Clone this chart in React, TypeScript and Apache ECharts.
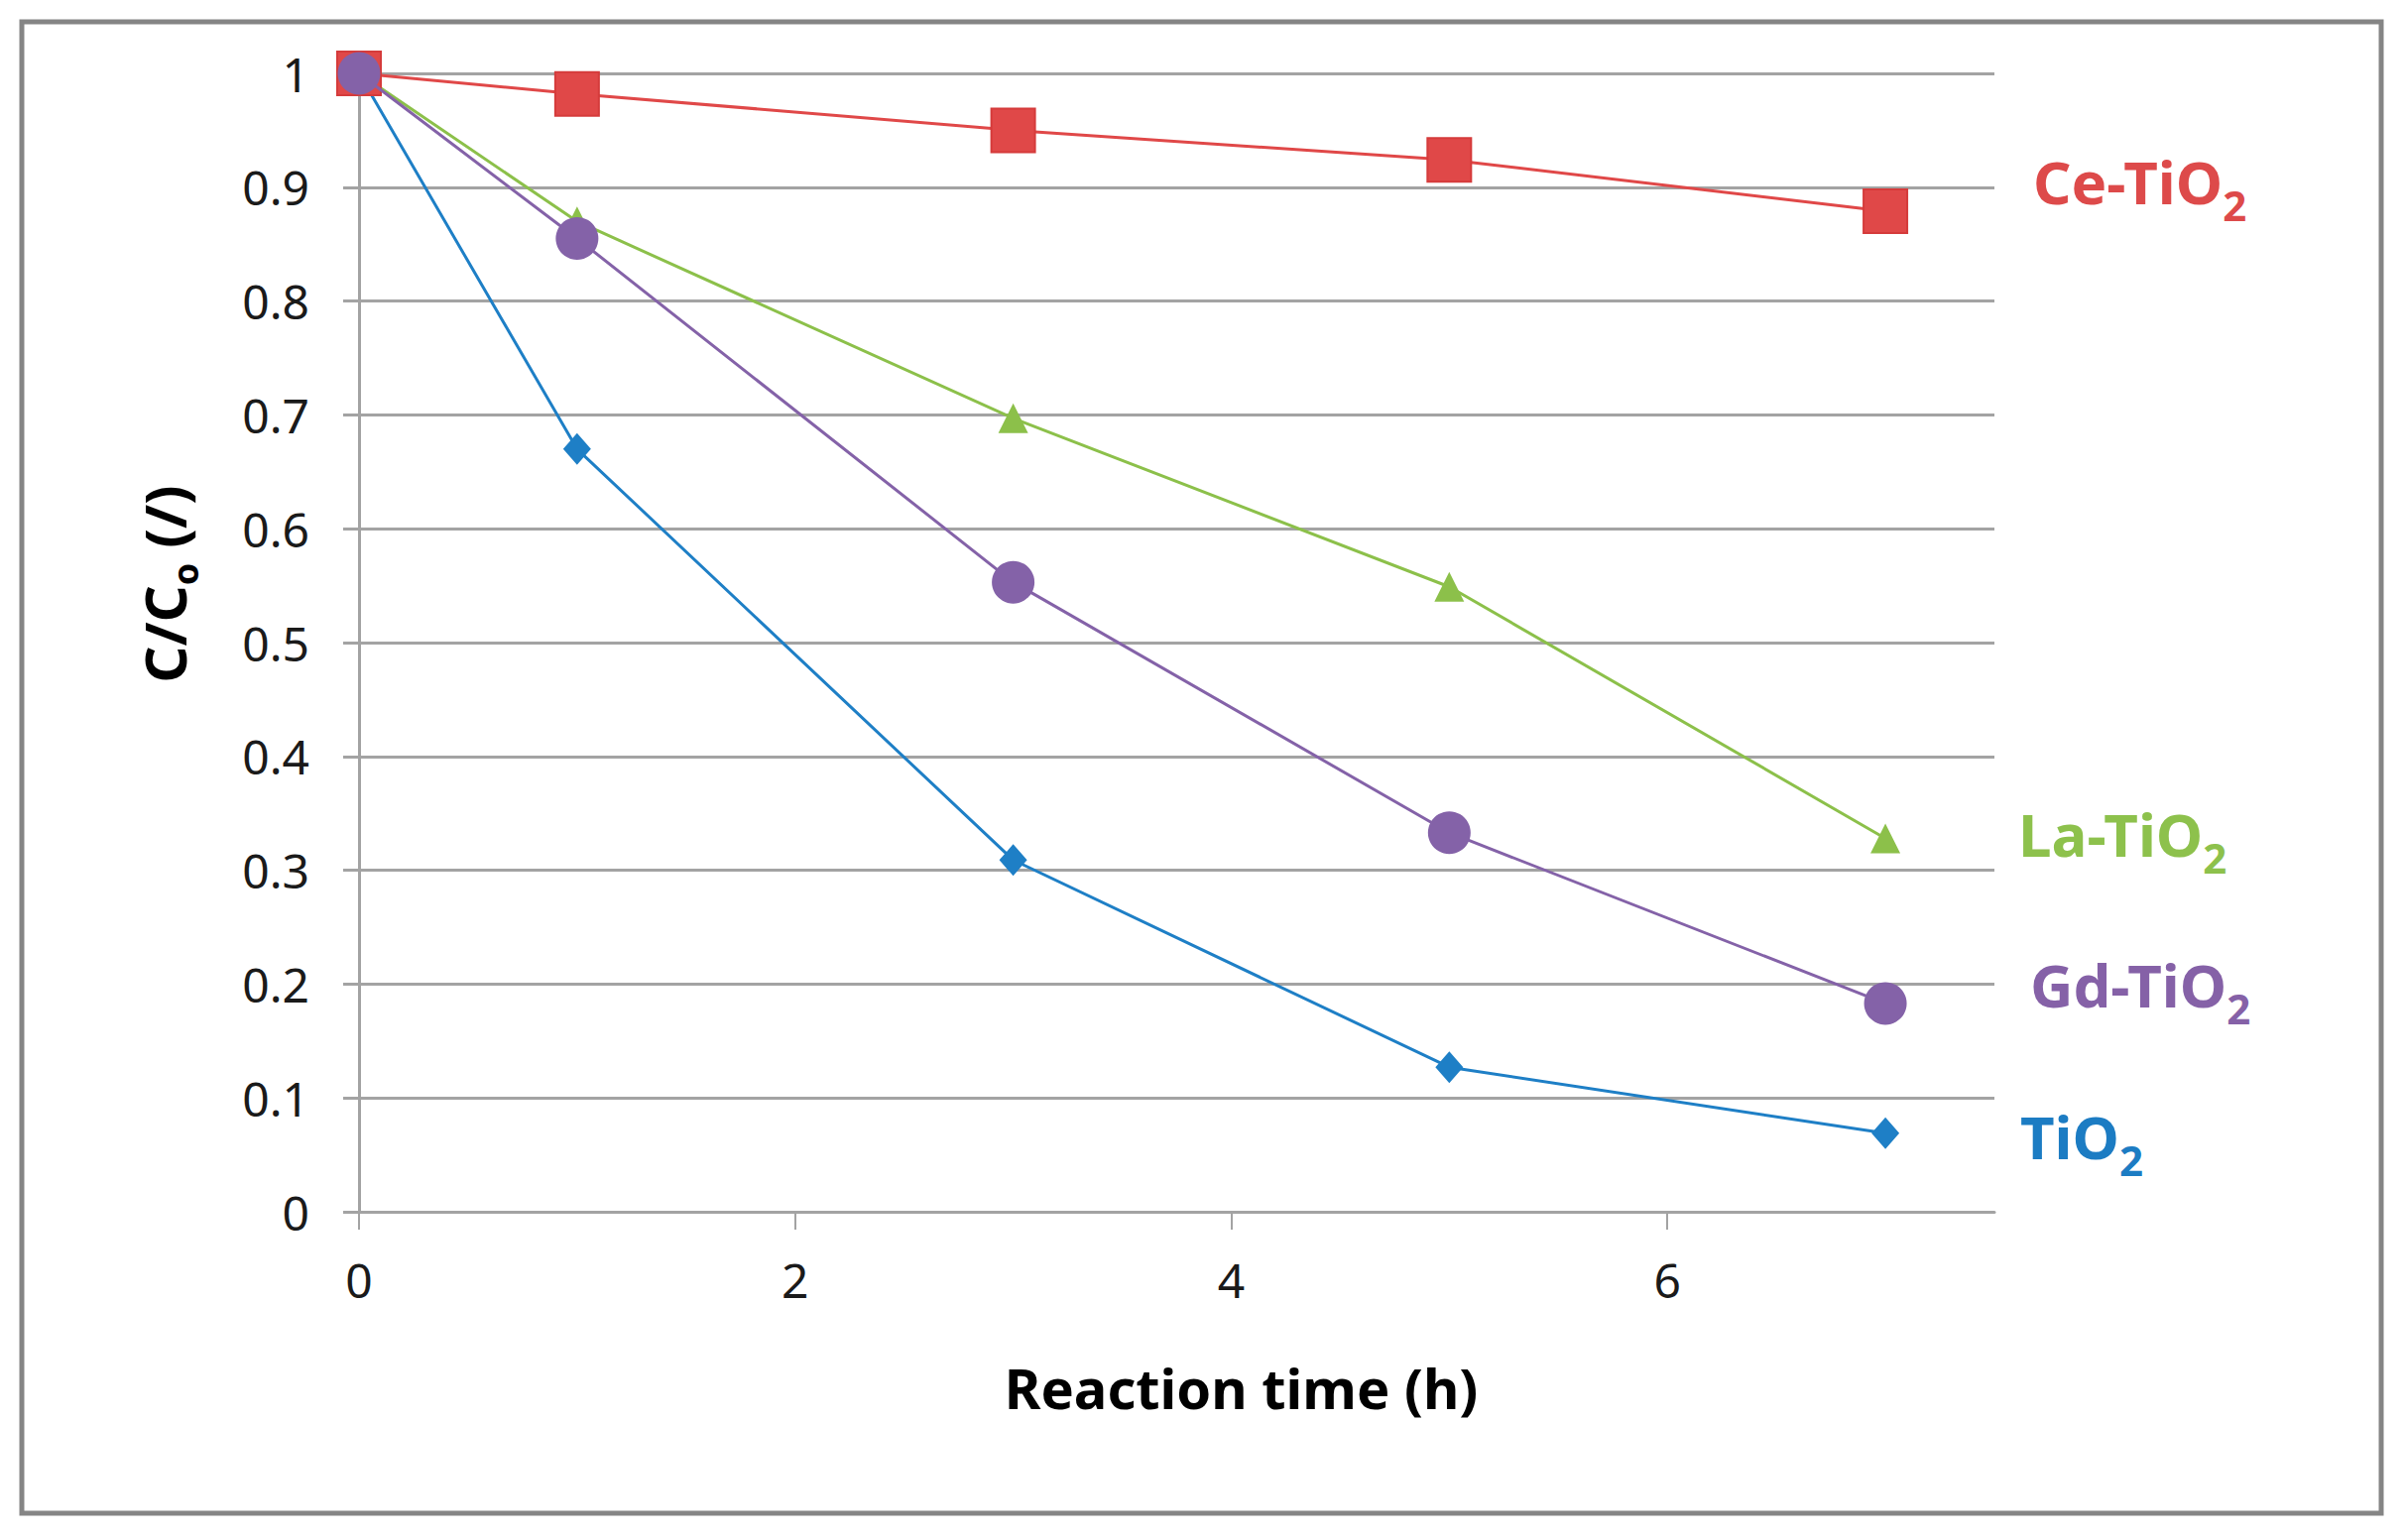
import React, { useEffect, useRef } from "react";
import * as echarts from "echarts";

// ---- data ----
const times = [0, 1, 3, 5, 7];
const tiO2 = [1.0, 0.67, 0.309, 0.127, 0.069];
const laTiO2 = [1.0, 0.87, 0.697, 0.549, 0.328];
const ceTiO2 = [1.0, 0.982, 0.95, 0.924, 0.879];
const gdTiO2 = [1.0, 0.855, 0.553, 0.333, 0.183];
const xTickValues = [0, 2, 4, 6];
const seriesNames = ["TiO2", "La-TiO2", "Ce-TiO2", "Gd-TiO2"];
const labelMain = ["TiO", "La-TiO", "Ce-TiO", "Gd-TiO"];
const labelSub = ["2", "2", "2", "2"];

const COLORS = {
  blue: "#1E7FC6",
  green: "#8CC04A",
  red: "#E04848",
  purple: "#8462A8",
};

const FONT = "'Noto Sans', 'Open Sans', sans-serif";

function pairs(ys: number[]) {
  return times.map((t, i) => [t, ys[i]]);
}

function seriesLabel(main: string, sub: string, color: string, x: number, y: number) {
  return {
    type: "text",
    x,
    y,
    silent: true,
    style: {
      text: `{m|${main}}{s|${sub}}`,
      align: "left",
      verticalAlign: "top",
      rich: {
        m: {
          fontSize: 60,
          fontWeight: "bold",
          fontFamily: FONT,
          lineHeight: 74,
          verticalAlign: "top",
          fill: color,
        },
        s: {
          fontSize: 42,
          fontWeight: "bold",
          fontFamily: FONT,
          lineHeight: 74,
          verticalAlign: "bottom",
          fill: color,
        },
      },
    },
  };
}

export default function App() {
  const ref = useRef<HTMLDivElement>(null);

  useEffect(() => {
    if (!ref.current) return;
    const chart = echarts.init(ref.current, undefined, { renderer: "svg" });

    const gridColor = "#A3A3A3";

    const option: any = {
      animation: false,
      backgroundColor: "#ffffff",
      grid: { left: 362, right: 414, top: 74, bottom: 331, containLabel: false },
      xAxis: {
        type: "value",
        min: 0,
        max: 7.5,
        interval: 2,
        name: "Reaction time (h)",
        nameLocation: "middle",
        nameGap: 149,
        nameTextStyle: {
          fontSize: 56,
          fontWeight: "bold",
          fontFamily: FONT,
          color: "#000",
          padding: [0, 0, 0, 130],
        },
        axisLine: { show: true, lineStyle: { color: gridColor, width: 3 } },
        axisTick: {
          show: true,
          length: 18,
          customValues: xTickValues,
          lineStyle: { color: gridColor, width: 2 },
        },
        axisLabel: {
          customValues: xTickValues,
          fontSize: 48,
          margin: 44,
          fontFamily: FONT,
          color: "#1a1a1a",
        },
        splitLine: { show: false },
      },
      yAxis: {
        type: "value",
        min: 0,
        max: 1,
        interval: 0.1,
        name: "{m|C/C}{s|o}{m| (/)}",
        nameLocation: "middle",
        nameRotate: 90,
        nameGap: 158,
        nameTextStyle: {
          padding: [0, 0, 0, 118],
          rich: {
            m: {
              fontSize: 58,
              fontWeight: "bold",
              fontFamily: FONT,
              color: "#000",
              lineHeight: 68,
              verticalAlign: "top",
            },
            s: {
              fontSize: 36,
              fontWeight: "bold",
              fontFamily: FONT,
              color: "#000",
              lineHeight: 68,
              verticalAlign: "bottom",
            },
          },
        },
        axisLine: { show: true, lineStyle: { color: gridColor, width: 3 } },
        axisTick: { show: true, length: 16, lineStyle: { color: gridColor, width: 3 } },
        axisLabel: { fontSize: 48, margin: 50, fontFamily: FONT, color: "#1a1a1a" },
        splitLine: { show: true, lineStyle: { color: gridColor, width: 3 } },
      },
      series: [
        {
          name: seriesNames[0],
          type: "line",
          data: pairs(tiO2),
          symbol: "diamond",
          symbolSize: [28, 32],
          lineStyle: { color: COLORS.blue, width: 3 },
          itemStyle: { color: COLORS.blue },
          z: 2,
        },
        {
          name: seriesNames[1],
          type: "line",
          data: pairs(laTiO2),
          symbol: "triangle",
          symbolSize: [30, 30],
          lineStyle: { color: COLORS.green, width: 3 },
          itemStyle: { color: COLORS.green },
          z: 3,
        },
        {
          name: seriesNames[2],
          type: "line",
          data: pairs(ceTiO2),
          symbol: "rect",
          symbolSize: 44,
          lineStyle: { color: COLORS.red, width: 3 },
          itemStyle: { color: COLORS.red, borderColor: "#D53B3B", borderWidth: 2 },
          z: 4,
        },
        {
          name: seriesNames[3],
          type: "line",
          data: pairs(gdTiO2),
          symbol: "circle",
          symbolSize: 43,
          lineStyle: { color: COLORS.purple, width: 3 },
          itemStyle: { color: COLORS.purple },
          z: 5,
        },
      ],
      graphic: [
        {
          type: "rect",
          silent: true,
          shape: { x: 22, y: 22, width: 2379, height: 1504 },
          style: { fill: "none", stroke: "#858585", lineWidth: 5 },
        },
        seriesLabel(labelMain[2], labelSub[2], "#DD4A4A", 2050, 153),
        seriesLabel(labelMain[1], labelSub[1], "#8DC14C", 2035, 811),
        seriesLabel(labelMain[3], labelSub[3], "#8561A7", 2047, 963),
        seriesLabel(labelMain[0], labelSub[0], "#1C7CC3", 2037, 1116),
      ],
    };

    chart.setOption(option);
    return () => chart.dispose();
  }, []);

  return (
    <div
      ref={ref}
      style={{ position: "absolute", left: 0, top: 0, width: 2425, height: 1553, background: "#fff" }}
    />
  );
}
